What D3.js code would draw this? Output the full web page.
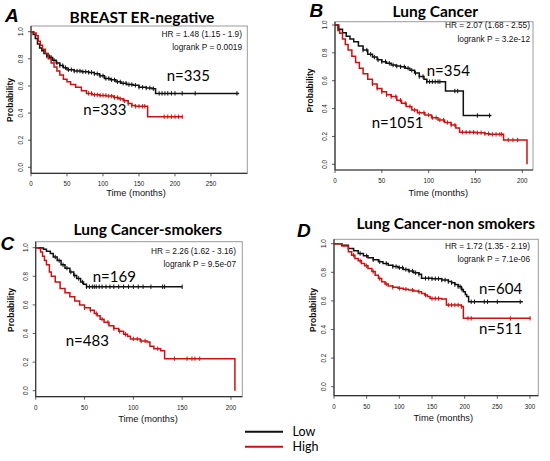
<!DOCTYPE html>
<html><head><meta charset="utf-8">
<script src="https://cdn.jsdelivr.net/npm/d3@7"></script>
<style>body{margin:0;background:#fff}svg{display:block}</style>
</head><body><svg id="c" width="550" height="461"></svg>
<script>
// ---------- data ----------
const panelLetters = ["A", "B", "C", "D"];
const panelTitles = ["BREAST ER-negative", "Lung Cancer", "Lung Cancer-smokers", "Lung Cancer-non smokers"];
const hrLabels = ["HR = 1.48 (1.15 - 1.9)", "HR = 2.07 (1.68 - 2.55)", "HR = 2.26 (1.62 - 3.16)", "HR = 1.72 (1.35 - 2.19)"];
const pLabels = ["logrank P = 0.0019", "logrank P = 3.2e-12", "logrank P = 9.5e-07", "logrank P = 7.1e-06"];
const lowNLabels = ["n=335", "n=354", "n=169", "n=604"];
const highNLabels = ["n=333", "n=1051", "n=483", "n=511"];
const xTicksA = [0, 50, 100, 150, 200, 250];
const xTicksB = [0, 50, 100, 150, 200];
const xTicksC = [0, 50, 100, 150, 200];
const xTicksD = [0, 50, 100, 150, 200, 250, 300];
const yTicks = [0, 0.2, 0.4, 0.6, 0.8, 1.0];
const legendLabels = ["Low", "High"];

// survival step curves: [time (months), probability]
const lowA = [[0,1],[3,0.98],[6,0.95],[9,0.91],[12,0.88],[15,0.86],[18,0.84],[22,0.82],[26,0.81],[30,0.79],[35,0.77],[40,0.75],[45,0.735],[50,0.72],[60,0.71],[70,0.705],[80,0.70],[88,0.69],[95,0.675],[102,0.655],[110,0.645],[118,0.63],[125,0.62],[133,0.61],[142,0.605],[150,0.59],[160,0.585],[168,0.58],[173,0.545],[289,0.545]];
const highA = [[0,1],[4,0.99],[7,0.97],[10,0.93],[13,0.9],[16,0.87],[20,0.84],[24,0.8],[28,0.77],[32,0.74],[36,0.71],[40,0.68],[45,0.65],[50,0.63],[55,0.61],[62,0.59],[70,0.565],[77,0.545],[85,0.535],[95,0.53],[105,0.525],[115,0.515],[122,0.505],[128,0.49],[135,0.47],[140,0.455],[145,0.45],[162,0.373],[211,0.373]];
const lowB = [[0,1],[4,0.97],[8,0.945],[12,0.92],[16,0.9],[20,0.88],[25,0.85],[30,0.82],[35,0.79],[40,0.77],[45,0.75],[50,0.737],[55,0.725],[60,0.713],[65,0.705],[70,0.70],[75,0.69],[80,0.675],[85,0.655],[90,0.63],[95,0.61],[98,0.593],[118,0.526],[137,0.35],[167,0.35]];
const highB = [[0,1],[3,0.96],[5,0.94],[8,0.9],[11,0.86],[14,0.82],[18,0.775],[22,0.73],[26,0.69],[30,0.65],[35,0.61],[40,0.577],[45,0.545],[50,0.52],[55,0.5],[60,0.486],[66,0.46],[71,0.438],[76,0.415],[82,0.39],[88,0.37],[96,0.354],[103,0.335],[110,0.318],[117,0.3],[124,0.282],[129,0.26],[133,0.23],[150,0.227],[160,0.22],[165,0.215],[180,0.175],[205,0]];
const lowC = [[0,1],[5,0.998],[8,0.99],[11,0.975],[15,0.96],[18,0.935],[22,0.91],[26,0.88],[30,0.857],[35,0.83],[39,0.805],[42,0.785],[46,0.76],[49,0.745],[52,0.727],[150,0.727]];
const highC = [[0,1],[3,0.995],[5,0.97],[7,0.94],[9,0.91],[11,0.88],[14,0.83],[16,0.8],[20,0.76],[25,0.715],[30,0.685],[35,0.657],[40,0.628],[45,0.6],[50,0.58],[56,0.563],[60,0.54],[63,0.525],[66,0.5],[70,0.478],[75,0.455],[80,0.435],[85,0.415],[90,0.395],[94,0.38],[97,0.362],[107,0.348],[114,0.34],[117,0.31],[121,0.294],[128,0.28],[132,0.224],[204,0]];
const lowD = [[0,1],[12,0.99],[22,0.967],[30,0.95],[37,0.932],[45,0.915],[52,0.902],[60,0.888],[68,0.874],[75,0.862],[83,0.85],[90,0.84],[98,0.832],[106,0.82],[114,0.809],[122,0.797],[130,0.786],[134,0.758],[150,0.755],[165,0.746],[175,0.735],[180,0.727],[185,0.714],[190,0.70],[195,0.68],[198,0.664],[201,0.645],[203,0.63],[206,0.594],[289,0.594]];
const highD = [[0,1],[12,0.984],[22,0.944],[27,0.92],[32,0.897],[37,0.88],[42,0.862],[47,0.845],[52,0.827],[58,0.805],[63,0.78],[68,0.756],[73,0.734],[78,0.718],[83,0.704],[90,0.695],[98,0.688],[106,0.682],[114,0.676],[122,0.67],[129,0.664],[134,0.652],[139,0.641],[143,0.63],[147,0.617],[165,0.613],[172,0.571],[195,0.56],[198,0.478],[301,0.478]];

// censoring times (months)
const lowCensorA = [22,25,28,32,36,40,44,48,52,56,60,64,68,72,76,80,84,88,92,96,100,104,108,112,116,120,124,128,132,136,140,145,150,155,160,165,170,178,182,186,190,195,200,210,228,286];
const highCensorA = [80,84,88,92,96,100,104,108,112,116,120,124,130,135,140,145,150,155,158,185,190,195,200,205,210];
const lowCensorB = [30,34,38,42,46,50,54,58,62,66,70,74,78,82,86,90,94,98,101,104,107,110,112,128,131,152,165];
const highCensorB = [40,45,50,55,60,65,70,75,80,85,90,95,100,104,108,112,116,120,124,128,136,140,144,148,152,156,160,164,168,172,176,178,185,190,195];
const lowCensorC = [20,24,28,32,36,40,44,48,52,55,58,60,62,65,68,72,76,80,85,90,95,100,105,110,118,130,132,150];
const highCensorC = [50,56,62,68,74,80,86,92,100,104,108,112,125,142,155,160,163,168];
const lowCensorD = [40,50,60,70,80,90,95,100,105,110,115,120,125,130,140,145,150,155,160,165,170,175,180,185,190,193,196,210,215,230,235,250,285];
const highCensorD = [30,40,50,60,70,80,90,100,110,120,130,140,150,155,160,175,180,185,190,195,205,210,270,300];

// ---------- layout (pixels) ----------
const layout = [
  {x0:31, xT:250, xTpx:211, y0:167.3, y1:31.7, box:[31,26,247.3,173.3], letter:[5,21.7], title:[142,22.7], hr:[242,37.3,50], nLow:[166.7,81], nHigh:[83.3,115], prob:[10,100], time:[136,195.8], tickLabY:186},
  {x0:335, xT:200, xTpx:522.3, y0:164.3, y1:25, box:[335,21.7,533,170], letter:[309.5,17.3], title:[435.3,17], hr:[530,28.3,41.7], nLow:[426.7,76], nHigh:[371.7,128.3], prob:[309.5,90.5], time:[438.3,196], tickLabY:182.5},
  {x0:35.7, xT:200, xTpx:231, y0:390.7, y1:247.7, box:[35.7,241.7,242.3,396.7], letter:[0.5,250], title:[147.8,235], hr:[236,254.3,266.7], nLow:[92.7,282], nHigh:[65.7,346], prob:[11,310], time:[148,421.5], tickLabY:409.5},
  {x0:334, xT:300, xTpx:530, y0:386.7, y1:243.7, box:[334,239.3,538.3,395.7], letter:[297,236.7], title:[445.8,229.3], hr:[530,249,261.7], nLow:[479,294.3], nHigh:[479,334.3], prob:[313.3,310], time:[443.3,420.5], tickLabY:408.5}
];

const xTicks = [xTicksA, xTicksB, xTicksC, xTicksD];
const lowCurves = [lowA, lowB, lowC, lowD];
const highCurves = [highA, highB, highC, highD];
const lowCensors = [lowCensorA, lowCensorB, lowCensorC, lowCensorD];
const highCensors = [highCensorA, highCensorB, highCensorC, highCensorD];

const LOW_COLOR = "#111111";
const HIGH_COLOR = "#cc1111";
const svg = d3.select("#c");
svg.append("rect").attr("width", 550).attr("height", 461).attr("fill", "#fff");

function stepAt(curve, t) {
  let v = curve[0][1];
  for (const [tt, s] of curve) { if (tt <= t) v = s; else break; }
  return v;
}

layout.forEach((L, i) => {
  const g = svg.append("g");
  const x = d3.scaleLinear().domain([0, L.xT]).range([L.x0, L.xTpx]);
  const y = d3.scaleLinear().domain([0, 1]).range([L.y0, L.y1]);
  const [bl, bt, br, bb] = L.box;

  // frame
  g.append("rect").attr("x", bl).attr("y", bt).attr("width", br - bl).attr("height", bb - bt)
    .attr("fill", "none").attr("stroke", "#9a9a9a").attr("stroke-width", 1);
  g.append("line").attr("x1", bl).attr("x2", bl).attr("y1", bt).attr("y2", bb).attr("stroke", "#333").attr("stroke-width", 1.2);
  g.append("line").attr("x1", bl).attr("x2", br).attr("y1", bb).attr("y2", bb).attr("stroke", "#333").attr("stroke-width", 1.2);

  // x axis ticks
  xTicks[i].forEach(v => {
    g.append("line").attr("x1", x(v)).attr("x2", x(v)).attr("y1", bb).attr("y2", bb + 3).attr("stroke", "#333").attr("stroke-width", 0.8);
    g.append("text").attr("x", x(v)).attr("y", L.tickLabY).attr("text-anchor", "middle")
      .attr("font-family", "Liberation Sans, Arial, sans-serif").attr("font-size", 6.3).attr("fill", "#222").text(v);
  });
  // y axis ticks
  yTicks.forEach(v => {
    g.append("line").attr("x1", bl - 3).attr("x2", bl).attr("y1", y(v)).attr("y2", y(v)).attr("stroke", "#333").attr("stroke-width", 0.8);
    g.append("text").attr("transform", `translate(${bl - 8},${y(v)}) rotate(-90)`).attr("text-anchor", "middle")
      .attr("font-family", "Liberation Sans, Arial, sans-serif").attr("font-size", 6.3).attr("fill", "#222").text(v.toFixed(1));
  });

  // curves
  const line = d3.line().x(d => x(d[0])).y(d => y(d[1])).curve(d3.curveStepAfter);
  [[lowCurves[i], lowCensors[i], LOW_COLOR], [highCurves[i], highCensors[i], HIGH_COLOR]].forEach(([curve, cens, col]) => {
    g.append("path").datum(curve).attr("d", line).attr("fill", "none").attr("stroke", col).attr("stroke-width", 1.5);
    const tMax = curve[curve.length - 1][0];
    g.selectAll(null).data(cens.filter(t => t <= tMax)).enter().append("line")
      .attr("x1", t => x(t)).attr("x2", t => x(t))
      .attr("y1", t => y(stepAt(curve, t)) - 2.2).attr("y2", t => y(stepAt(curve, t)) + 2.2)
      .attr("stroke", col).attr("stroke-width", 1);
  });

  // texts
  g.append("text").attr("x", L.letter[0]).attr("y", L.letter[1])
    .attr("font-family", "Liberation Sans, Arial, sans-serif").attr("font-weight", "bold").attr("font-style", "italic")
    .attr("font-size", 19).attr("fill", "#000").text(panelLetters[i]);
  g.append("text").attr("x", L.title[0]).attr("y", L.title[1]).attr("text-anchor", "middle")
    .attr("font-family", "Lato, 'Open Sans', sans-serif").attr("font-weight", "bold")
    .attr("font-size", 15.5).attr("fill", "#000").text(panelTitles[i]);
  g.append("text").attr("x", L.hr[0]).attr("y", L.hr[1]).attr("text-anchor", "end")
    .attr("font-family", "Liberation Sans, Arial, sans-serif").attr("font-size", 8.3).attr("fill", "#111").text(hrLabels[i]);
  g.append("text").attr("x", L.hr[0]).attr("y", L.hr[2]).attr("text-anchor", "end")
    .attr("font-family", "Liberation Sans, Arial, sans-serif").attr("font-size", 8.3).attr("fill", "#111").text(pLabels[i]);
  g.append("text").attr("x", L.nLow[0]).attr("y", L.nLow[1])
    .attr("font-family", "Lato, 'Open Sans', sans-serif").attr("font-size", 15).attr("fill", "#000").text(lowNLabels[i]);
  g.append("text").attr("x", L.nHigh[0]).attr("y", L.nHigh[1])
    .attr("font-family", "Lato, 'Open Sans', sans-serif").attr("font-size", 15).attr("fill", "#000").text(highNLabels[i]);
  g.append("text").attr("transform", `translate(${L.prob[0] + 3},${L.prob[1]}) rotate(-90)`).attr("text-anchor", "middle")
    .attr("font-family", "Liberation Sans, Arial, sans-serif").attr("font-weight", "bold").attr("font-size", 8.5).attr("fill", "#111").text("Probability");
  g.append("text").attr("x", L.time[0]).attr("y", L.time[1]).attr("text-anchor", "middle")
    .attr("font-family", "Liberation Sans, Arial, sans-serif").attr("font-size", 9.3).attr("fill", "#111").text("Time (months)");
});

// legend
const legendColors = [LOW_COLOR, HIGH_COLOR];
const legendY = d3.scalePoint().domain(legendLabels).range([431.7, 446.7]);
legendLabels.forEach((lab, i) => {
  svg.append("line").attr("x1", 245).attr("x2", 283).attr("y1", legendY(lab)).attr("y2", legendY(lab))
    .attr("stroke", legendColors[i]).attr("stroke-width", 2);
  svg.append("text").attr("x", 292.5).attr("y", legendY(lab) + 4.6)
    .attr("font-family", "Lato, 'Open Sans', sans-serif").attr("font-size", 12.5).attr("fill", "#000").text(lab);
});
</script></body></html>
